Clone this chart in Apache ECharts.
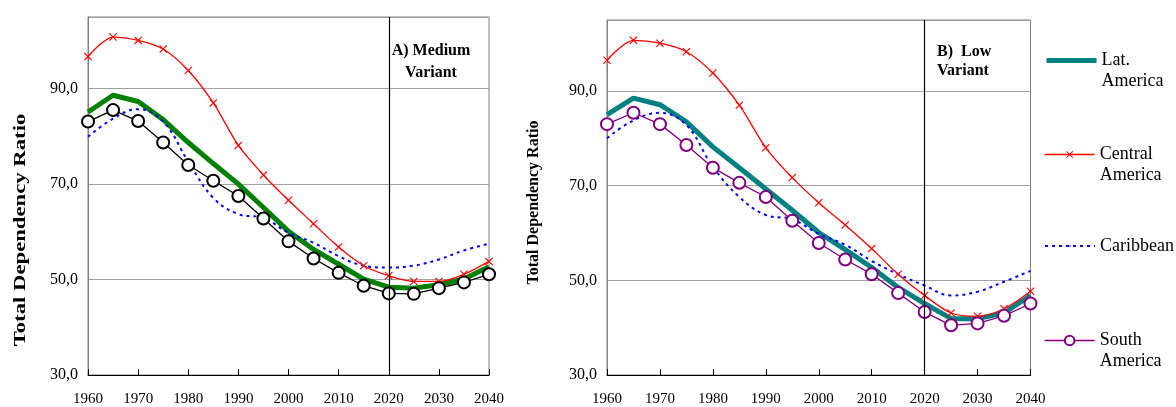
<!DOCTYPE html>
<html>
<head>
<meta charset="utf-8">
<script src="https://cdn.jsdelivr.net/npm/echarts@6/dist/echarts.min.js"></script>
<style>
html,body{margin:0;padding:0;background:#fff;}
#chart{width:1176px;height:407px;}
</style>
</head>
<body>
<div id="chart"></div>
<script>
// ---- data ----
const years = [1960,1965,1970,1975,1980,1985,1990,1995,2000,2005,2010,2015,2020,2025,2030,2035,2040];
const seriesNames = ['Lat. America','Central America','Caribbean','South America'];
// A) Medium variant
const latMedium     = [85.1,88.6,87.3,83.5,78.7,74.3,70.0,65.1,60.1,56.3,53.2,50.1,48.4,48.2,48.9,50.1,52.7];
const centralMedium = [96.7,100.8,100.1,98.3,93.8,87.0,78.1,71.9,66.6,61.7,56.8,52.9,50.8,49.6,49.6,51.1,53.8];
const caribMedium   = [79.9,83.7,85.7,83.1,74.7,67.1,63.7,62.9,59.8,57.7,54.9,52.9,52.5,52.9,54.2,56.1,57.5];
const southMedium   = [83.1,85.5,83.2,78.7,74.0,70.7,67.5,62.8,58.0,54.4,51.4,48.7,47.1,47.0,48.2,49.4,51.1];
// B) Low variant
const latLow     = [85.0,88.5,87.1,83.5,78.2,73.8,69.3,64.8,60.1,56.5,52.7,48.5,45.1,41.9,41.9,43.1,46.8];
const centralLow = [96.5,100.7,100.1,98.3,93.8,87.0,78.0,71.7,66.4,61.7,56.7,51.3,46.8,43.1,42.4,44.0,47.7];
const caribLow   = [80.0,83.8,85.4,82.8,74.0,67.6,63.8,62.9,59.8,57.5,54.1,51.3,48.9,46.8,47.6,49.7,52.0];
const southLow   = [83.0,85.4,83.0,78.6,73.8,70.6,67.6,62.6,57.9,54.4,51.3,47.3,43.3,40.5,40.9,42.5,45.1];
const dividerYear = 2020;
const yTitle = 'Total Dependency Ratio';
const panelLabels = ['A) Medium\nVariant', 'B)  Low\nVariant'];

// ---- chart ----
const FONT = '"Liberation Serif","Times New Roman",serif';
const XPATH = 'path://M0,1L1,0L5,4L9,0L10,1L6,5L10,9L9,10L5,6L1,10L0,9L4,5Z';
const pairs = vals => years.map((y,i)=>[y, vals[i]]);

function lineSeries(name, vals, idx, kind, latColor, southColor){
  const base = {type:'line', name, xAxisIndex:idx, yAxisIndex:idx, data:pairs(vals), animation:false};
  if (kind==='lat') return Object.assign(base,{symbol:'none', lineStyle:{width:5,color:latColor}, itemStyle:{color:latColor}, z:2,
     markLine:{silent:true, symbol:['none','none'], label:{show:false}, lineStyle:{color:'#000',type:'solid',width:1.2}, data:[{xAxis:dividerYear}], animation:false}});
  if (kind==='central') return Object.assign(base,{symbol:XPATH, symbolSize:8, smooth:0.3, lineStyle:{width:1.3,color:'#ff0000'}, itemStyle:{color:'#ff0000'}, z:3});
  if (kind==='carib') return Object.assign(base,{symbol:'none', smooth:0.4, lineStyle:{width:2,color:'#0000ff',type:[3,4]}, itemStyle:{color:'#0000ff'}, z:3});
  return Object.assign(base,{symbol:'emptyCircle', symbolSize:12, lineStyle:{width:1.3,color:southColor}, itemStyle:{color:southColor, borderWidth:1.3}, z:4});
}

function xAxis(idx){
  return {type:'value', gridIndex:idx, min:1960, max:2040, interval:10,
    axisLine:{show:true, onZero:false, lineStyle:{color:'#000',width:1}},
    axisTick:{show:true, inside:true, length:6, lineStyle:{color:'#000'}},
    axisLabel:{fontFamily:FONT, fontSize:15, color:'#000', margin:17, formatter:v=>String(v)},
    splitLine:{show:false}};
}
function yAxis(idx){
  return {type:'value', gridIndex:idx, min:30, max:105, interval:20,
    axisLine:{show:true, lineStyle:{color:'#808080',width:1}},
    axisTick:{show:false},
    axisLabel:{fontFamily:FONT, fontSize:16, color:'#000', margin:10, showMaxLabel:false,
      formatter:v=>v.toFixed(1).replace('.',',')},
    splitLine:{show:true, lineStyle:{color:'#a0a0a0',width:1}}};
}

const series = [
  // right panel first so legend takes its styles
  lineSeries(seriesNames[0], latLow, 1, 'lat', '#008080'),
  lineSeries(seriesNames[1], centralLow, 1, 'central'),
  lineSeries(seriesNames[2], caribLow, 1, 'carib'),
  lineSeries(seriesNames[3], southLow, 1, 'south', null, '#800080'),
  lineSeries(seriesNames[0], latMedium, 0, 'lat', '#008000'),
  lineSeries(seriesNames[1], centralMedium, 0, 'central'),
  lineSeries(seriesNames[2], caribMedium, 0, 'carib'),
  lineSeries(seriesNames[3], southMedium, 0, 'south', null, '#000000'),
];

function legend(name, top, itemHeight, lineWidth, twoLine){
  return {data:[name], orient:'vertical', left:1039, top, itemWidth:50, itemHeight,
    selectedMode:false,
    lineStyle:{width:lineWidth},
    formatter:n=> twoLine ? '\n' + n.replace(' ','\n') : n,
    textStyle:{fontFamily:FONT, fontSize:18, color:'#000', lineHeight:21}};
}

const option = {
  backgroundColor:'#fff',
  animation:false,
  grid:[
    {left:88, top:17, width:401, height:361.5, show:true, borderColor:'#808080', borderWidth:1},
    {left:607, top:20, width:423.5, height:360.7, show:true, borderColor:'#808080', borderWidth:1}
  ],
  xAxis:[xAxis(0), xAxis(1)],
  yAxis:[yAxis(0), yAxis(1)],
  legend:[
    legend(seriesNames[0], 24, 5, 5, true),
    legend(seriesNames[1], 118, 9, 1.3, true),
    legend(seriesNames[2], 230.5, 2, 2, false),
    legend(seriesNames[3], 304, 12, 1.3, true)
  ],
  graphic:[
    {type:'text', x:21, y:230, rotation:Math.PI/2, scaleX:1.42, silent:true,
      style:{text:yTitle, font:'bold 16px '+FONT, fill:'#000', textAlign:'center', textVerticalAlign:'middle'}},
    {type:'text', x:534, y:202.5, rotation:Math.PI/2, silent:true,
      style:{text:yTitle, font:'bold 16px '+FONT, fill:'#000', textAlign:'center', textVerticalAlign:'middle'}},
    {type:'text', x:431, y:62, silent:true,
      style:{text:panelLabels[0], font:'bold 16px '+FONT, lineHeight:22, fill:'#000', textAlign:'center', textVerticalAlign:'middle'}},
    {type:'text', x:937, y:61.5, silent:true,
      style:{text:panelLabels[1], font:'bold 16px '+FONT, lineHeight:19.5, fill:'#000', textAlign:'left', textVerticalAlign:'middle'}}
  ],
  series
};

const chart = echarts.init(document.getElementById('chart'), null, {renderer:'canvas'});
chart.setOption(option);
</script>
</body>
</html>
